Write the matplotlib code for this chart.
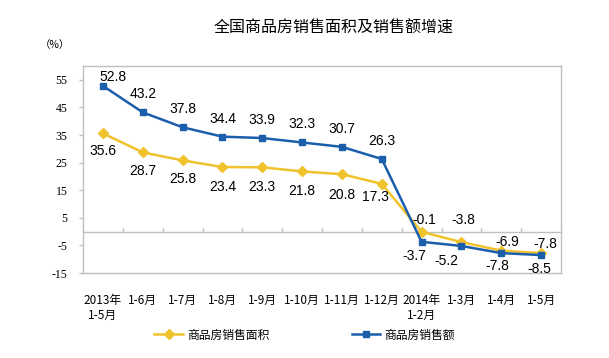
import numpy as np
import matplotlib
matplotlib.use("Agg")
import matplotlib.pyplot as plt

plt.rcParams['font.family'] = ['Noto Sans CJK SC', 'DejaVu Sans']

# données
categories = ['2013年\n1-5月', '1-6月', '1-7月', '1-8月', '1-9月', '1-10月', '1-11月',
              '1-12月', '2014年\n1-2月', '1-3月', '1-4月', '1-5月']
area = [35.6, 28.7, 25.8, 23.4, 23.3, 21.8, 20.8, 17.3, -0.1, -3.8, -6.9, -7.8]
amount = [52.8, 43.2, 37.8, 34.4, 33.9, 32.3, 30.7, 26.3, -3.7, -5.2, -7.8, -8.5]
yticks = [55, 45, 35, 25, 15, 5, -5, -15]

# décalage des étiquettes (pixels)
area_off = [(0, -18), (0, -19), (0, -19), (0, -20), (0, -20), (0, -20), (0, -21), (-6, -13),
            (3, 12), (2, 22), (6, 9), (4, 9)]
amount_off = [(10, 9), (0, 18), (0, 18), (0, 18), (0, 18), (0, 18), (0, 18), (0, 18),
              (-7, -14), (-15, -15), (-4, -13), (-2, -14)]

yellow = '#F0C22C'
blue = '#1B5EAB'
grey = '#BFBFBF'

fig = plt.figure(figsize=(6.09, 3.58), dpi=100)
ax = fig.add_axes([83/609, 1-273/358, (561-83)/609, (273-66)/358])
x = np.arange(len(categories))

ax.plot(x, area, color=yellow, lw=1.8, marker='D', ms=5, mec=yellow, mfc=yellow,
        label='商品房销售面积', zorder=3)
ax.plot(x, amount, color=blue, lw=1.8, marker='s', ms=5, mec=blue, mfc=blue,
        label='商品房销售额', zorder=4)

for i in range(len(x)):
    ax.annotate(f'{area[i]:.1f}', (x[i], area[i]), xytext=area_off[i], textcoords='offset pixels',
                ha='center', va='center', fontsize=10, family='Liberation Sans', color='black')
    ax.annotate(f'{amount[i]:.1f}', (x[i], amount[i]), xytext=amount_off[i], textcoords='offset pixels',
                ha='center', va='center', fontsize=10, family='Liberation Sans', color='black')

ax.set_xlim(-0.5, len(x) - 0.5)
ax.set_ylim(-15, 60)
ax.set_yticks(yticks)
ax.set_yticklabels([str(v) for v in yticks], fontsize=8.5, family='Liberation Serif')
ax.tick_params(axis='y', length=3, width=1, color=grey, pad=8)
ax.set_xticks(x)
ax.set_xticklabels(categories, fontsize=8.5, va='top', linespacing=1.2)
ax.tick_params(axis='x', length=0, pad=15)
for s in ax.spines.values():
    s.set_color(grey)
    s.set_linewidth(1)

# axe du zéro
sec = ax.secondary_xaxis(0, transform=ax.transData)
sec.set_xticks(x[:-1] + 0.5)
sec.set_xticklabels([])
sec.tick_params(direction='in', length=3, width=1, color=grey)
sec.spines['bottom'].set_color(grey)
sec.spines['bottom'].set_linewidth(1)

fig.text(334/609, 1-28/358, '全国商品房销售面积及销售额增速', ha='center', va='center', fontsize=11.5)
fig.text(55/609, 1-45/358, '（%）', ha='center', va='center', fontsize=7.5)

fig.legend(loc='center', bbox_to_anchor=(0.5, 1-335/358), ncol=2, frameon=False,
           fontsize=8.5, handlelength=2.4, handletextpad=0.35, columnspacing=7.0)

fig.savefig('out.png', dpi=100, facecolor='white')
